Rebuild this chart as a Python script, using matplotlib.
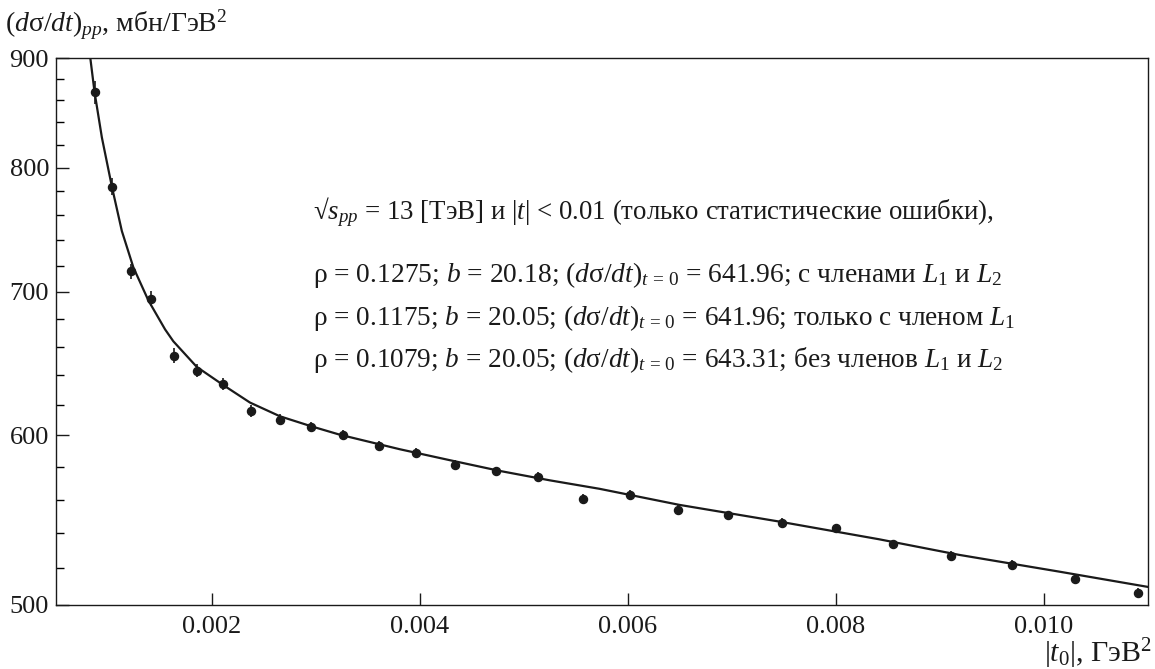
import numpy as np
import matplotlib
matplotlib.use("Agg")
import matplotlib.pyplot as plt
from matplotlib.ticker import FixedLocator, NullFormatter, FixedFormatter

# ------------------------------------------------------------------
# Datos
# ------------------------------------------------------------------
t_data = [0.000874, 0.00104, 0.00122, 0.001414, 0.001638, 0.001859, 0.002106,
          0.002371, 0.002653, 0.00295, 0.003264, 0.003606, 0.003965, 0.004336,
          0.004729, 0.005136, 0.005568, 0.006016, 0.006483, 0.006966, 0.007479,
          0.008003, 0.00855, 0.009107, 0.00969, 0.010294, 0.010909]
ds_data = [867.4, 783.9, 715.5, 695.0, 653.7, 643.2, 634.1, 616.1, 610.2, 605.4,
           600.2, 593.3, 588.7, 581.4, 577.2, 573.8, 560.5, 563.0, 553.8, 550.8,
           546.3, 543.0, 533.7, 527.1, 522.2, 514.0, 506.7]
ds_err = [11, 7, 5.5, 5.5, 5, 4.5, 4, 4, 3.5, 3.5, 3.5, 3.2, 3, 3, 3, 3, 2.8,
          2.8, 2.8, 2.6, 2.6, 2.6, 2.5, 2.5, 2.5, 2.5, 2.5]

# curva de ajuste (leída punto a punto)
t_fit = [0.000829, 0.000870, 0.000941, 0.001037, 0.001133, 0.001244, 0.001388,
         0.001549, 0.001628, 0.001853, 0.002108, 0.002365, 0.002653, 0.002957,
         0.003229, 0.003805, 0.004285, 0.004765, 0.005245, 0.005725, 0.006493,
         0.007453, 0.008413, 0.009181, 0.010141, 0.011]
ds_fit = [900.6, 868.0, 826.3, 783.9, 747.3, 718.6, 693.6, 672.3, 663.8, 645.8,
          633.3, 621.5, 612.4, 605.8, 600.4, 591.1, 584.2, 577.5, 571.7, 566.5,
          556.8, 546.9, 536.6, 527.7, 518.3, 509.8]

x_ticks = [0.002, 0.004, 0.006, 0.008, 0.010]
x_ticklabels = ["0.002", "0.004", "0.006", "0.008", "0.010"]
y_ticks = [500, 600, 700, 800, 900]
y_minor = [v for v in range(520, 900, 20) if v % 100 != 0]

text_lines = [
    r"√$s_{pp}$ = 13 [ТэВ] и $|t|$ < 0.01 (только статистические ошибки),",
    r"ρ = 0.1275; $b$ = 20.18; $(d\mathrm{σ}/dt)_{t\,=\,0}$ = 641.96; с членами $L_1$ и $L_2$",
    r"ρ = 0.1175; $b$ = 20.05; $(d\mathrm{σ}/dt)_{t\,=\,0}$ = 641.96; только с членом $L_1$",
    r"ρ = 0.1079; $b$ = 20.05; $(d\mathrm{σ}/dt)_{t\,=\,0}$ = 643.31; без членов $L_1$ и $L_2$",
]
text_y = [0.7057, 0.5905, 0.5119, 0.4351]
text_size = [19.4, 19.8, 19.6, 19.6]

# ------------------------------------------------------------------
# Estilo
# ------------------------------------------------------------------
plt.rcParams['font.family'] = ['Liberation Serif', 'DejaVu Serif']
plt.rcParams['mathtext.fontset'] = 'custom'
plt.rcParams['mathtext.rm'] = 'Liberation Serif'
plt.rcParams['mathtext.it'] = 'Liberation Serif:italic'
plt.rcParams['mathtext.bf'] = 'Liberation Serif:bold'

ink = '#1a1a1a'

fig = plt.figure(figsize=(11.55, 6.69), dpi=100)
ax = fig.add_axes([0.0485, 0.0957, 0.9454, 0.8176])

ax.plot(t_fit, ds_fit, color=ink, linewidth=1.6, zorder=2,
        solid_joinstyle='round')
ax.errorbar(t_data, ds_data, yerr=ds_err, fmt='o', color=ink,
            markersize=5.8, elinewidth=1.2, capsize=0, zorder=3)

ax.set_yscale('log')
ax.set_xlim(0.0005, 0.011)
ax.set_ylim(500, 900)

ax.yaxis.set_major_locator(FixedLocator(y_ticks))
ax.yaxis.set_major_formatter(FixedFormatter([str(v) for v in y_ticks]))
ax.yaxis.set_minor_locator(FixedLocator(y_minor))
ax.yaxis.set_minor_formatter(NullFormatter())
ax.xaxis.set_major_locator(FixedLocator(x_ticks))
ax.xaxis.set_major_formatter(FixedFormatter(x_ticklabels))

ax.tick_params(axis='both', which='major', direction='in', length=9, width=1.0,
               labelsize=19, colors=ink)
ax.tick_params(axis='y', which='minor', direction='in', length=6, width=1.0)
ax.tick_params(axis='x', which='major', pad=8)
ax.tick_params(axis='y', which='major', pad=5)
for s in ax.spines.values():
    s.set_linewidth(1.0)
    s.set_color(ink)

for ty, txt, fs in zip(text_y, text_lines, text_size):
    ax.text(0.235, ty, txt, transform=ax.transAxes, fontsize=fs,
            ha='left', va='baseline', color=ink)

fig.text(0.004, 0.952, r"$(d\mathrm{σ}/dt)_{pp}$, мбн/ГэВ$^2$", fontsize=20,
         ha='left', va='baseline', color=ink)
fig.text(0.997, 0.0105, r"$|t_0|$, ГэВ$^2$", fontsize=21.5,
         ha='right', va='baseline', color=ink)

plt.savefig("out.png", dpi=100)
plt.close()
